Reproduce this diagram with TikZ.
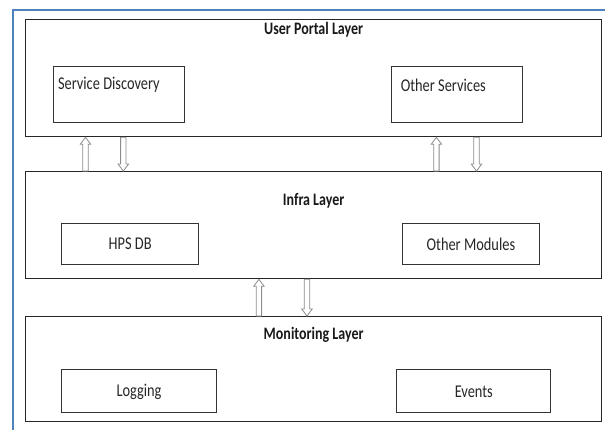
\documentclass[tikz,border=0pt]{standalone}
\usepackage{fontspec}
\setmainfont{Carlito}[FakeStretch=0.8]
\usetikzlibrary{calc}
\definecolor{frameblue}{RGB}{79,129,189}
\begin{document}
\begin{tikzpicture}[x=1pt,y=1pt,
  font=\fontsize{18}{20}\selectfont,
  layerbox/.style={draw=black!85, line width=1.2pt, inner sep=0pt, minimum width=576.2pt},
  inbox/.style={draw=black!80, line width=1pt, inner sep=0pt, text=black!85},
  txt/.style={inner sep=0pt, text=black!85},
  title/.style={inner sep=0pt, text=black!90, font=\fontsize{17.5}{20}\selectfont\bfseries},
  blockarrow/.style={draw=black!45, fill=white, line width=0.8pt,
    to path={let \p1=(\tikztostart), \p2=(\tikztotarget),
      \p3=($(\tikztotarget)!7pt!(\tikztostart)$) in
      (\x1-2.7pt,\y1) -- (\x1-2.7pt,\y3) -- (\x1-5.2pt,\y3) -- (\x1,\y2)
      -- (\x1+5.2pt,\y3) -- (\x1+2.7pt,\y3) -- (\x1+2.7pt,\y1) -- cycle}}]
\useasboundingbox (0,0) rectangle (605,430);
\draw[frameblue, line width=2pt] (12.7,0) -- (12.7,420) -- (605,420);

% layers
\node[layerbox, minimum height=117.4pt] (portal) at (313.6,352) {};
\node[layerbox, minimum height=107pt] (infra) at (313.6,204.8) {};
\node[layerbox, minimum height=105pt] (monitor) at (313.6,60.8) {};

\node[title] (portalT) at (313.6,400) {User Portal Layer};
\node[title] (infraT) at (313.6,229) {Infra Layer};
\node[title] (monitorT) at (313.6,95) {Monitoring Layer};

% inner boxes
\node[inbox, minimum width=131pt, minimum height=56pt] (sd) at (119.4,335.3) {};
\node[inbox, minimum width=130.9pt, minimum height=56pt] (os) at (457.25,335.3) {};
\node[txt, anchor=west] (sdT) at (57.8,345) {Service Discovery};
\node[txt, anchor=west] (osT) at (400.6,345) {Other Services};

\node[inbox, minimum width=137.2pt, minimum height=41.7pt] (hps) at (130.2,185.85) {HPS DB};
\node[inbox, minimum width=136.8pt, minimum height=41.7pt] (om) at (470.9,185.85) {Other Modules};

\node[inbox, minimum width=154.9pt, minimum height=43pt] (log) at (139.05,38.5) {Logging};
\node[inbox, minimum width=154pt, minimum height=43pt] (ev) at (473.8,38.5) {Events};

% arrow columns
\coordinate (c1) at (85.5,0);
\coordinate (c2) at (123.3,0);
\coordinate (c3) at (436.4,0);
\coordinate (c4) at (476.5,0);
\coordinate (c5) at (258.9,0);
\coordinate (c6) at (307,0);

\draw[blockarrow] (infra.north -| c1) to (portal.south -| c1);
\draw[blockarrow] (portal.south -| c2) to (infra.north -| c2);
\draw[blockarrow] (infra.north -| c3) to (portal.south -| c3);
\draw[blockarrow] (portal.south -| c4) to (infra.north -| c4);
\draw[blockarrow] (monitor.north -| c5) to (infra.south -| c5);
\draw[blockarrow] (infra.south -| c6) to (monitor.north -| c6);
\end{tikzpicture}
\end{document}
